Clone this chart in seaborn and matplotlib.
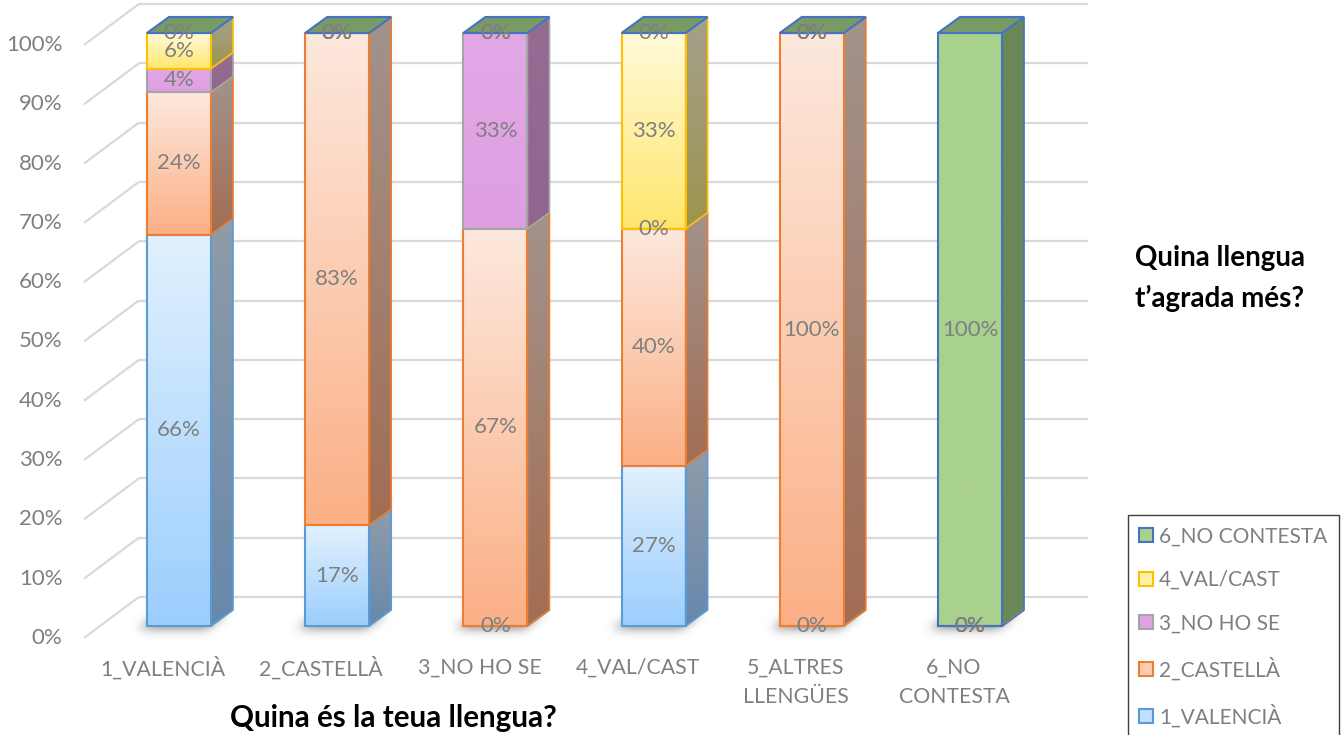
import numpy as np
import pandas as pd
import matplotlib
matplotlib.use("Agg")
import matplotlib.pyplot as plt
import seaborn as sns
from matplotlib.patches import Polygon, Patch
from matplotlib.path import Path
from matplotlib.colors import to_rgb

# ---------------- data ----------------
categories = ["1_VALENCIÀ", "2_CASTELLÀ", "3_NO HO SE", "4_VAL/CAST",
              "5_ALTRES\nLLENGÜES", "6_NO\nCONTESTA"]
series_names = ["1_VALENCIÀ", "2_CASTELLÀ", "3_NO HO SE", "4_VAL/CAST", "6_NO CONTESTA"]
valencia = [66, 17, 0, 27, 0, 0]
castella = [24, 83, 67, 40, 100, 0]
no_ho_se = [4, 0, 33, 0, 0, 0]
val_cast = [6, 0, 0, 33, 0, 0]
no_contesta = [0, 0, 0, 0, 0, 100]
y_ticks = list(range(0, 101, 10))
x_title = "Quina és la teua llengua?"
legend_title = ["Quina llengua", "t’agrada més?"]

series_values = [valencia, castella, no_ho_se, val_cast, no_contesta]

# ---------------- style ----------------
edge_colors = ["#5B9BD5", "#ED7D31", "#A5A5A5", "#FFC000", "#4472C4"]
front_top = ["#E1F1FE", "#FDE8DD", "#E2A8E6", "#FFFAD8", "#A9D18E"]
front_bot = ["#9CCEFD", "#FBB086", "#DE9FE1", "#FFE66E", "#A9D18E"]
side_top = ["#8F9CA9", "#A2938C", "#976C93", "#A3A08C", "#6B8858"]
side_bot = ["#6888AC", "#A26D53", "#91658E", "#9E954E", "#6A8757"]
legend_fill = ["#BFE0FE", "#FCCBB0", "#E0A3E3", "#FFF1A6", "#A9D18E"]
top_face_color = "#789A66"
text_gray = "#7F7F7F"
grid_color = "#D9D9D9"
PCT_FS = 16
CAT_FS = 15.3

BAR_W = 0.405
DX, DY = 0.139, 2.7        # bar depth (oblique)
FX, FY = -0.101, -2.02     # front edge of walls relative to bar front plane
BX, BY = 0.2465, 4.89      # back wall relative to bar front plane
PXX, PXY = 158.2, 5.93     # pixels per data unit


def vgrad(top, bot, n=64):
    t = np.linspace(0, 1, n)[:, None]
    c = (1 - t) * np.array(to_rgb(bot)) + t * np.array(to_rgb(top))
    return c[:, None, :]


def kernel(sig):
    r = int(np.ceil(3 * sig))
    t = np.arange(-r, r + 1)
    k = np.exp(-0.5 * (t / sig) ** 2)
    return k / k.sum()


sns.set_theme(style="white")
plt.rcParams["font.family"] = ["Lato", "DejaVu Sans"]

fig = plt.figure(figsize=(13.41, 7.35), dpi=100)
ax = fig.add_axes([0, 0, 1, 1])

n = len(categories)
left, right = -0.5, n - 0.5

# walls / gridlines and tick labels
for v in y_ticks:
    ax.plot([left + FX, left + BX], [v + FY, v + BY], color=grid_color, lw=1.6,
            zorder=1, solid_capstyle="butt")
    ax.plot([left + BX, right + BX], [v + BY, v + BY], color=grid_color, lw=1.6,
            zorder=1, solid_capstyle="butt")
    ax.text(left + FX - 0.135, v + FY, f"{v}%", ha="right", va="center",
            fontsize=PCT_FS, color=text_gray)

# soft shadows under bars
k = kernel(5)
for i in range(n):
    x0 = i - BAR_W / 2
    sx, sy = -6 / PXX, -3 / PXY
    foot = np.array([(x0 - 4 / PXX, 0), (x0 + BAR_W, 0),
                     (x0 + BAR_W + DX, DY), (x0 + DX, DY)]) + [sx, sy]
    xa, xb = x0 - 0.2, x0 + BAR_W + DX + 0.15
    ya, yb = -5, DY + 4
    nx = int((xb - xa) * PXX)
    ny = int((yb - ya) * PXY)
    gx = np.linspace(xa, xb, nx)
    gy = np.linspace(ya, yb, ny)
    XX, YY = np.meshgrid(gx, gy)
    mask = Path(foot).contains_points(np.c_[XX.ravel(), YY.ravel()]).reshape(ny, nx).astype(float)
    mask = np.apply_along_axis(lambda r: np.convolve(r, k, mode="same"), 1, mask)
    mask = np.apply_along_axis(lambda c: np.convolve(c, k, mode="same"), 0, mask)
    rgba = np.zeros((ny, nx, 4))
    rgba[..., :3] = 0.25
    rgba[..., 3] = mask * 0.65
    ax.imshow(rgba, extent=[xa, xb, ya, yb], origin="lower", aspect="auto",
              interpolation="bilinear", zorder=1.5)

# stacked 3D-looking bars
bottoms = np.zeros(n)
for s, vals in enumerate(series_values):
    vals = np.asarray(vals, dtype=float)
    df = pd.DataFrame({"cat": categories, "val": vals})
    for i in range(n):
        x0 = i - BAR_W / 2
        b, h = bottoms[i], vals[i]
        if h > 0:
            ax.imshow(vgrad(front_top[s], front_bot[s]), extent=[x0, x0 + BAR_W, b, b + h],
                      origin="lower", aspect="auto", interpolation="bilinear", zorder=2)
        side = Polygon([(x0 + BAR_W, b), (x0 + BAR_W + DX, b + DY),
                        (x0 + BAR_W + DX, b + h + DY), (x0 + BAR_W, b + h)],
                       closed=True, facecolor="none", edgecolor=edge_colors[s],
                       lw=1.2, zorder=3)
        ax.add_patch(side)
        if h > 0:
            im = ax.imshow(vgrad(side_top[s], side_bot[s]),
                           extent=[x0 + BAR_W, x0 + BAR_W + DX, b, b + h + DY],
                           origin="lower", aspect="auto", interpolation="bilinear", zorder=2)
            im.set_clip_path(side)
    sns.barplot(data=df, x="cat", y="val", bottom=bottoms.copy(), width=BAR_W,
                color=edge_colors[s], fill=False, saturation=1, linewidth=1.5,
                errorbar=None, zorder=3, ax=ax)
    for i in range(n):
        ax.text(i, bottoms[i] + vals[i] / 2, f"{vals[i]:.0f}%", ha="center", va="center",
                fontsize=PCT_FS, color=text_gray, zorder=6)
    bottoms += vals

# top faces
for i in range(n):
    x0 = i - BAR_W / 2
    T = bottoms[i]
    ax.add_patch(Polygon([(x0, T), (x0 + BAR_W, T), (x0 + BAR_W + DX, T + DY), (x0 + DX, T + DY)],
                         closed=True, facecolor=top_face_color, edgecolor=edge_colors[-1],
                         lw=1.5, zorder=4))

# category labels
for i, cat in enumerate(categories):
    for j, line in enumerate(cat.split("\n")):
        ax.text(i + FX, -7.08 - j * 4.89, line, ha="center", va="center",
                fontsize=CAT_FS, color=text_gray)

# titles
ax.text(1.353, -15.5, x_title, ha="center", va="center", fontsize=21.3,
        fontweight="bold", color="black")
ax.text(6.58, 62.06, legend_title[0], ha="center", va="center", fontsize=20,
        fontweight="bold", color="black")
ax.text(6.58, 55.3, legend_title[1], ha="center", va="center", fontsize=20,
        fontweight="bold", color="black")

# legend
handles = [Patch(facecolor=legend_fill[s], edgecolor=edge_colors[s], linewidth=1.5,
                 label=series_names[s]) for s in reversed(range(len(series_names)))]
leg = ax.legend(handles=handles, loc="upper left",
                bbox_to_anchor=(1128 / 1341, 1 - 515 / 735), bbox_transform=fig.transFigure,
                frameon=True, fancybox=False, edgecolor="#404040", framealpha=1,
                fontsize=15, labelcolor=text_gray, handlelength=0.65, handleheight=0.65,
                handletextpad=0.3, labelspacing=1.13, borderpad=0.55, borderaxespad=0)
leg.get_frame().set_linewidth(1.0)

ax.set_xlim(-179 / PXX, (1341 - 179) / PXX)
ax.set_ylim(-109 / PXY, (735 - 109) / PXY)
ax.axis("off")

fig.savefig("out.png", dpi=100)
